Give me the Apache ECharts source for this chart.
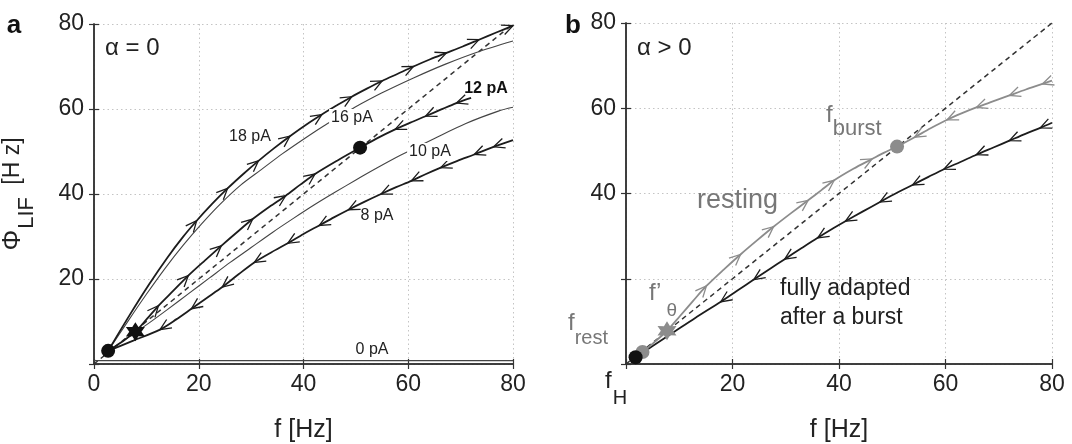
<!DOCTYPE html>
<html>
<head>
<meta charset="utf-8">
<script src="https://cdn.jsdelivr.net/npm/echarts@6/dist/echarts.min.js"></script>
<style>
  html, body { margin: 0; padding: 0; background: #fff; }
  #main { width: 1072px; height: 444px; }
</style>
</head>
<body>
<div id="main"></div>
<script>
// ---- data ----
const ticks = [0, 20, 40, 60, 80];
const diagF = [0, 80];
const diagPhi = [0, 80];

// panel a: alpha = 0, one curve per input current
const pA18f   = [2.7, 6.8, 10.5, 14, 17, 19.6, 22.5, 25.5, 28.5, 31.4, 34.4, 37.4, 40.5, 43.5, 46.3, 49.2, 52.1, 55, 58, 61, 64.2, 67.3, 70.4, 73.5, 76.8, 80];
const pA18phi = [3.1, 11.5, 18.7, 25, 29.9, 33.7, 37.6, 41.3, 44.7, 47.8, 50.8, 53.6, 56.3, 58.7, 60.8, 62.9, 64.8, 66.6, 68.3, 70, 71.7, 73.2, 74.7, 76.3, 78, 79.6];
const pA16f   = [2.7, 6.5, 10, 13.5, 17, 20.5, 24, 28, 32, 36, 40, 43.7, 46.8, 49.8, 55, 61, 67, 73, 80];
const pA16phi = [3.1, 10.1, 16.4, 22.4, 27.9, 32.9, 37.5, 42.1, 45.8, 49.5, 52.9, 55.9, 58.2, 60.4, 63.8, 67.3, 70.5, 73.3, 76];
const pA12f   = [2.7, 5.3, 7.9, 10.1, 12.3, 15.2, 18, 21.2, 24.3, 27.3, 30.3, 33.5, 36.6, 39.4, 42.2, 46.5, 50.8, 54.2, 57.5, 60.4, 63.3, 66.3, 69.2, 72];
const pA12phi = [3.1, 5.2, 7.6, 10.6, 13.7, 17.3, 20.8, 24.4, 27.8, 31, 34.1, 37, 39.6, 42.2, 44.7, 47.9, 50.9, 53.2, 55.2, 56.8, 58.3, 59.9, 61.4, 62.6];
const pA10f   = [2.7, 6, 10, 14, 18, 22, 26, 30, 34, 38, 42, 46, 50, 54, 58.5, 65.2, 71, 77.2, 80];
const pA10phi = [3.1, 5.8, 9.2, 12.8, 16.5, 20.2, 23.9, 27.4, 30.9, 34.2, 37.4, 40.4, 43.3, 46.1, 49.1, 53.2, 56.6, 59.5, 60.4];
const pA8f    = [2.7, 7.5, 12.6, 15.7, 18.6, 21.6, 24.5, 27.6, 30.6, 33.9, 37, 40, 43, 45.8, 48.6, 51.7, 54.8, 57.7, 60.6, 63.4, 66.2, 69.4, 72.6, 76.3, 80];
const pA8phi  = [3.1, 5.5, 8.1, 10.5, 13, 15.6, 18.1, 21.1, 23.9, 26.3, 28.4, 30.6, 32.6, 34.5, 36.3, 38.2, 40, 41.6, 43.1, 44.7, 46.2, 47.8, 49.3, 51.1, 52.7];
const pA0f    = [0, 80];
const pA0phi  = [0.8, 0.8];

// fixed points in panel a
const aCircleF = [2.7, 50.8];
const aCirclePhi = [3.1, 50.9];
const aStarF = [7.9];
const aStarPhi = [7.6];

// arrow heads: indices into the curves above
const pA18arrows = [5, 7, 9, 11, 13, 15, 17, 19, 21, 23, 25];   // forward
const pA12up     = [4, 6, 8, 10, 12, 14];                         // forward
const pA12down   = [18, 20, 22];                                  // backward
const pA8arrows  = [2, 4, 6, 8, 10, 12, 14, 16, 18, 20, 22, 23];  // backward

// panel b: alpha > 0
const restF   = [1.8, 3.1, 5.4, 7.7, 10.1, 12.6, 15.1, 18.3, 21.5, 24.6, 27.7, 31, 34.2, 36.7, 39.1, 42.7, 46.2, 48.5, 50.9, 54.2, 57.2, 60.3, 63, 65.8, 68.9, 72, 75.1, 78.2, 80];
const restPhi = [1.6, 2.8, 5.2, 7.8, 11.2, 14.8, 18.3, 22.1, 25.7, 29, 32.2, 35.4, 38.4, 40.8, 43.1, 45.8, 48.1, 49.6, 51, 53.2, 55.3, 57.3, 58.8, 60.2, 61.6, 63, 64.4, 65.7, 66.5];
const adaptF   = [1.8, 5, 9, 13, 17.8, 21, 24, 27, 29.8, 33, 36, 39, 41.2, 44.5, 47.7, 50.8, 53.8, 56.8, 59.7, 62.8, 65.8, 69, 72, 75, 77.8, 80];
const adaptPhi = [1.6, 4.2, 7.5, 10.8, 14.6, 17.3, 19.8, 22.3, 24.6, 27.2, 29.6, 31.9, 33.5, 35.8, 38, 40.1, 42, 43.9, 45.7, 47.4, 49.1, 50.8, 52.4, 54, 55.4, 56.6];
const restUp   = [6, 8, 10, 12, 14, 16];          // forward
const restDown = [19, 21, 23, 25, 27];            // backward
const adaptArrows = [4, 6, 8, 10, 12, 14, 16, 18, 20, 22, 24];  // backward

const bBlackF = [1.8];
const bBlackPhi = [1.6];
const bGrayF = [3.1, 50.9];
const bGrayPhi = [2.8, 51];
const bStarF = [7.7];
const bStarPhi = [7.8];

// ---- helpers ----
const FONT = '"Liberation Sans", Arial, Helvetica, sans-serif';
const BLACK = '#1c1c1c';
const GRAY = '#8c8c8c';
const TXTGRAY = '#777';

function pairs(xs, ys) {
  return xs.map((v, i) => [v, ys[i]]);
}

// tip at point i, tail at the neighbour it comes from
function arrowData(xs, ys, idx, dir) {
  return idx.map(i => {
    const j = dir > 0 ? i - 1 : i + 1;
    return [xs[i], ys[i], xs[j], ys[j]];
  });
}

function hexagram() {
  let d = '';
  for (let k = 0; k < 12; k++) {
    const r = k % 2 ? 5.6 : 10;
    const a = (k * 30 - 90) * Math.PI / 180;
    d += (k ? 'L' : 'M') + (10 + r * Math.cos(a)).toFixed(2) + ' ' + (10 + r * Math.sin(a)).toFixed(2);
  }
  return 'path://' + d + 'Z';
}

function curve(xs, ys, ax, color, width, dashed) {
  return {
    type: 'line', xAxisIndex: ax, yAxisIndex: ax,
    data: pairs(xs, ys), showSymbol: false, smooth: 0.3, silent: true,
    lineStyle: { color: color, width: width, type: dashed ? [5, 4] : 'solid' },
    z: 3
  };
}

function arrows(data, ax, color) {
  return {
    type: 'custom', xAxisIndex: ax, yAxisIndex: ax, data: data, silent: true, z: 4,
    encode: { x: [0, 2], y: [1, 3] },
    renderItem: function (params, api) {
      const tip = api.coord([api.value(0), api.value(1)]);
      const tail = api.coord([api.value(2), api.value(3)]);
      const a = Math.atan2(tip[1] - tail[1], tip[0] - tail[0]);
      const c = Math.cos(a), s = Math.sin(a);
      const len = 11, wing = 5;
      const p1 = [tip[0] - len * c + wing * s, tip[1] - len * s - wing * c];
      const p2 = [tip[0] - len * c - wing * s, tip[1] - len * s + wing * c];
      return {
        type: 'polyline',
        shape: { points: [p1, tip, p2] },
        style: { stroke: color, lineWidth: 1.3, fill: null }
      };
    }
  };
}

function dots(xs, ys, ax, color, symbol, size) {
  return {
    type: 'scatter', xAxisIndex: ax, yAxisIndex: ax, data: pairs(xs, ys),
    symbol: symbol, symbolSize: size, silent: true, z: 6,
    itemStyle: { color: color, opacity: 1 }
  };
}

const tickLine = { show: true, lineStyle: { color: '#333', width: 1.5 } };
const tickMarks = { show: true, inside: true, length: 5, lineStyle: { color: '#333', width: 1.2 } };
const gridDots = { show: true, lineStyle: { color: '#c4c4c4', type: [1.5, 3], width: 1 } };
const labelStyle = { fontSize: 23, color: '#222', fontFamily: FONT };

function mainX(grid, name, fmt) {
  return {
    gridIndex: grid, type: 'value', min: ticks[0], max: ticks[ticks.length - 1], interval: 20,
    position: 'bottom', axisLine: tickLine, axisTick: tickMarks, splitLine: gridDots,
    axisLabel: Object.assign({ margin: 9, formatter: fmt }, labelStyle),
    name: name, nameLocation: 'middle', nameGap: 54,
    nameTextStyle: { fontSize: 25, color: '#222', fontFamily: FONT }
  };
}
function sideAxis(grid, pos) {
  return {
    gridIndex: grid, type: 'value', min: ticks[0], max: ticks[ticks.length - 1], interval: 20,
    position: pos, axisLine: tickLine, axisTick: tickMarks,
    axisLabel: { show: false }, splitLine: { show: false }
  };
}
function mainY(grid, fmt) {
  return {
    gridIndex: grid, type: 'value', min: ticks[0], max: ticks[ticks.length - 1], interval: 20,
    position: 'left', axisLine: tickLine, axisTick: tickMarks, splitLine: gridDots,
    axisLabel: Object.assign({ margin: 10, formatter: fmt }, labelStyle)
  };
}

const yA = mainY(0, v => (v === 0 ? '' : v));
yA.name = '{p|Φ}{s|LIF}  {h|[H z]}';
yA.nameLocation = 'middle';
yA.nameRotate = 90;
yA.nameGap = 56;
yA.nameTextStyle = {
  color: '#222', fontFamily: FONT, fontSize: 22,
  rich: {
    p: { fontSize: 26, fontFamily: FONT, color: '#222' },
    s: { fontSize: 22, fontFamily: FONT, color: '#222', padding: [28, 0, 0, 1] },
    h: { fontSize: 23, fontFamily: FONT, color: '#222' }
  }
};

const chart = echarts.init(document.getElementById('main'), null, { renderer: 'canvas' });

const labelBox = { backgroundColor: '#fff', padding: [1, 2] };
function note(x, y, text, font, fill, align, boxed) {
  return {
    type: 'text', x: x, y: y, z: 10,
    style: Object.assign({ text: text, font: font + ' ' + FONT, fill: fill, align: align, verticalAlign: 'middle' }, boxed ? labelBox : {})
  };
}
function subNote(x, y, main, sub, fill, pad, subSize, padLeft) {
  return {
    type: 'text', x: x, y: y, z: 10,
    style: {
      text: '{f|' + main + '}{s|' + sub + '}', fill: fill, align: 'left', verticalAlign: 'top',
      rich: {
        f: { fontSize: 24, fontFamily: FONT, fill: fill },
        s: { fontSize: subSize, fontFamily: FONT, fill: fill, padding: [pad, 0, 0, padLeft] }
      }
    }
  };
}

chart.setOption({
  animation: false,
  backgroundColor: '#fff',
  textStyle: { fontFamily: FONT },
  grid: [
    { left: 94, top: 24, width: 419, height: 340, outerBoundsMode: 'none' },
    { left: 626, top: 23, width: 426, height: 341, outerBoundsMode: 'none' }
  ],
  xAxis: [
    mainX(0, 'f [Hz]', v => v),
    sideAxis(0, 'top'),
    mainX(1, 'f [Hz]', v => (v === 0 ? '' : v)),
    sideAxis(1, 'top')
  ],
  yAxis: [
    yA,
    sideAxis(0, 'right'),
    mainY(1, v => (v === 0 || v === 20 ? '' : v)),
    sideAxis(1, 'right')
  ],
  series: [
    // panel a
    curve(diagF, diagPhi, 0, '#333', 1.5, true),
    curve(pA0f, pA0phi, 0, '#444', 1.1),
    curve(pA16f, pA16phi, 0, '#444', 1.1),
    curve(pA10f, pA10phi, 0, '#444', 1.1),
    curve(pA18f, pA18phi, 0, BLACK, 1.8),
    curve(pA12f, pA12phi, 0, BLACK, 1.8),
    curve(pA8f, pA8phi, 0, BLACK, 1.8),
    arrows(arrowData(pA18f, pA18phi, pA18arrows, 1), 0, BLACK),
    arrows(arrowData(pA12f, pA12phi, pA12up, 1), 0, BLACK),
    arrows(arrowData(pA12f, pA12phi, pA12down, -1), 0, BLACK),
    arrows(arrowData(pA8f, pA8phi, pA8arrows, -1), 0, BLACK),
    dots(aCircleF, aCirclePhi, 0, '#111', 'circle', 14),
    dots(aStarF, aStarPhi, 0, '#111', hexagram(), 19),
    // panel b
    curve(diagF, diagPhi, 2, '#333', 1.5, true),
    curve(adaptF, adaptPhi, 2, BLACK, 1.8),
    curve(restF, restPhi, 2, GRAY, 1.8),
    arrows(arrowData(adaptF, adaptPhi, adaptArrows, -1), 2, BLACK),
    arrows(arrowData(restF, restPhi, restUp, 1), 2, GRAY),
    arrows(arrowData(restF, restPhi, restDown, -1), 2, GRAY),
    dots(bGrayF, bGrayPhi, 2, GRAY, 'circle', 14),
    dots(bBlackF, bBlackPhi, 2, '#111', 'circle', 14),
    dots(bStarF, bStarPhi, 2, GRAY, hexagram(), 19)
  ],
  graphic: [
    note(14, 26, 'a', 'bold 26px', '#111', 'center'),
    note(573, 26, 'b', 'bold 26px', '#111', 'center'),
    note(105, 48, 'α = 0', '24px', '#222', 'left'),
    note(637, 48, 'α > 0', '24px', '#222', 'left'),
    note(250, 137, '18 pA', '16px', '#222', 'center'),
    note(352, 118, '16 pA', '16px', '#222', 'center', true),
    note(486, 89, '12 pA', 'bold 16px', '#111', 'center'),
    note(430, 152, '10 pA', '16px', '#222', 'center', true),
    note(377, 216, '8 pA', '16px', '#222', 'center'),
    note(372, 350, '0 pA', '16px', '#222', 'center'),
    note(697, 201, 'resting', '27px', TXTGRAY, 'left'),
    note(780, 289, 'fully adapted', '23px', '#222', 'left'),
    note(780, 318, 'after a burst', '23px', '#222', 'left'),
    subNote(826, 90, 'f', 'burst', TXTGRAY, 28, 22, 0),
    subNote(649, 267, 'f’', 'θ', TXTGRAY, 34, 19, 5),
    subNote(568, 298, 'f', 'rest', TXTGRAY, 30, 20, 0),
    subNote(605, 354, 'f', 'H', '#222', 34, 20, 1)
  ]
});
</script>
</body>
</html>
